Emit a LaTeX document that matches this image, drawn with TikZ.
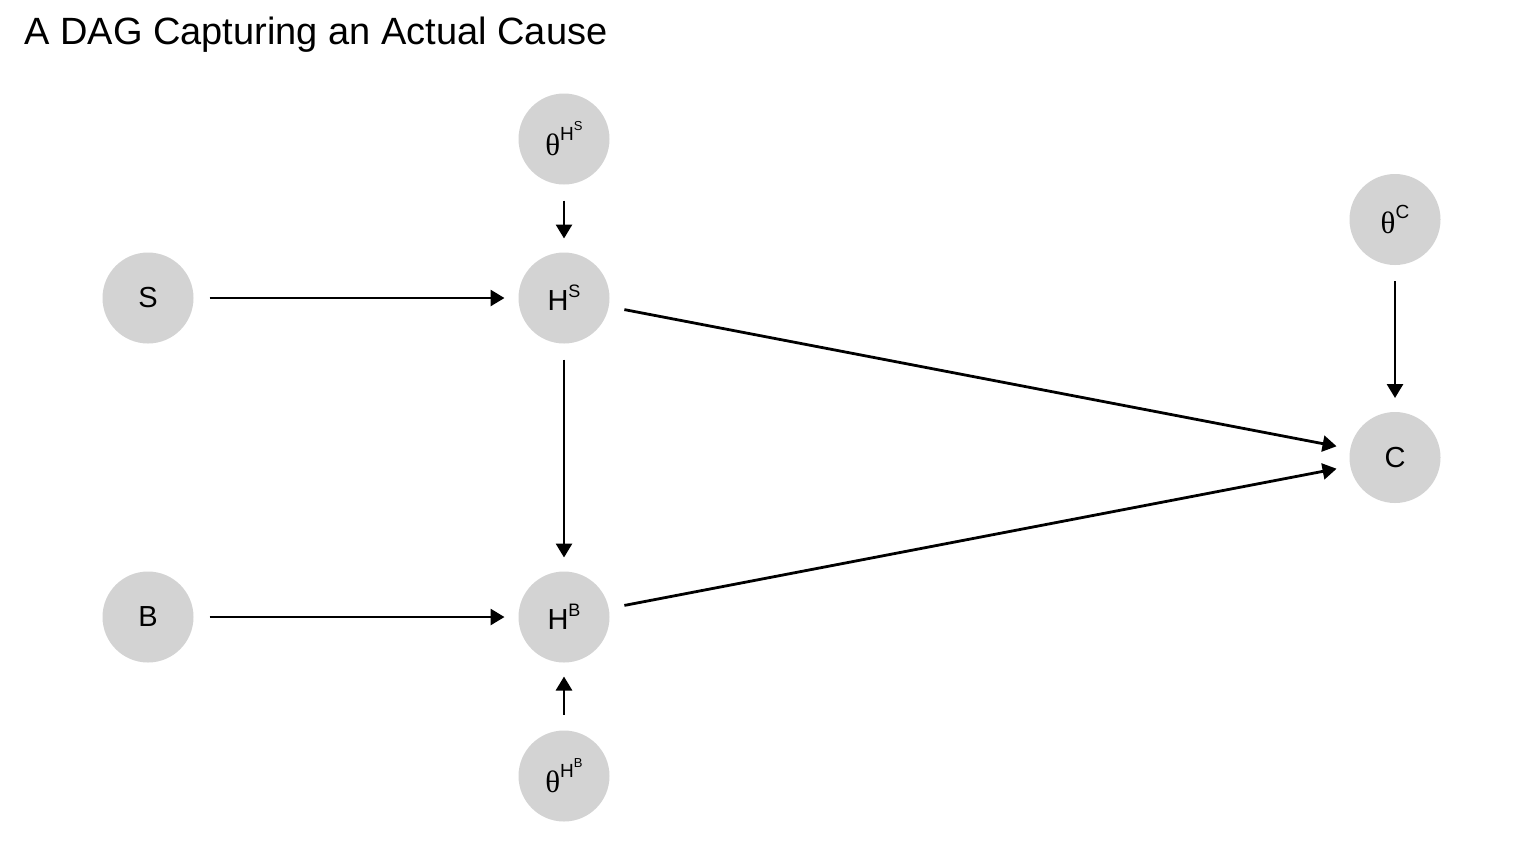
\documentclass[tikz,border=0pt]{standalone}
\usepackage{fontspec}
\setmainfont{Liberation Sans}
\newfontfamily\thetafont{Liberation Serif}
\usetikzlibrary{positioning,arrows.meta}
\definecolor{nodegray}{RGB}{211,211,211}
\newcommand{\upone}[1]{\raisebox{6.7pt}{\fontsize{9pt}{9pt}\selectfont #1}}
\newcommand{\uptwo}[1]{\raisebox{5pt}{\fontsize{6.5pt}{6.5pt}\selectfont #1}}
\newcommand{\thetaof}[1]{{\thetafont\fontsize{15.5pt}{15.5pt}\selectfont θ}\raisebox{7.5pt}{\fontsize{9.5pt}{9.5pt}\selectfont #1}}

\begin{document}
\begin{tikzpicture}[%
    x=0.5pt,
    y=-0.5pt,
    ->,
    >={Triangle[length=7pt,width=8pt]},
    line width=1.4pt,
    shorten >=7pt,
    shorten <=8pt,
    var/.style={%
      circle,
      fill=nodegray,
      minimum size=45.5pt,
      inner sep=0pt,
      outer sep=0pt,
      font=\fontsize{14.5pt}{14.5pt}\selectfont
    }
  ]
    \useasboundingbox (0,0) rectangle (1536,864);
    \node[anchor=base west, inner sep=0pt, font=\fontsize{19pt}{19pt}\selectfont] (title) at (23,44) {A DAG Capturing an Actual Cause};

    \node[var] (S) at (148,298)                                {S};
    \node[var] (HS) [node distance=162.5pt,right=of S]         {H\upone{S}};
    \node[var] (thetaHS) [node distance=34pt,above=of HS]      {\thetaof{H\uptwo{S}}};
    \node[var] (HB) [node distance=114pt,below=of HS]          {H\upone{B}};
    \node[var] (B) [node distance=162.5pt,left=of HB]          {B};
    \node[var] (thetaHB) [node distance=34pt,below=of HB]      {\thetaof{H\uptwo{B}}};
    \node[var] (C) at (1395,457.5)                             {C};
    \node[var] (thetaC) [node distance=73.5pt,above=of C]      {\thetaof{C}};

    \path (S) edge (HS)
          (thetaHS) edge (HS)
          (HS) edge (HB)
          (B) edge (HB)
          (thetaHB) edge (HB)
          (HS) edge (C)
          (HB) edge (C)
          (thetaC) edge (C)
          ;
  \end{tikzpicture}
\end{document}
